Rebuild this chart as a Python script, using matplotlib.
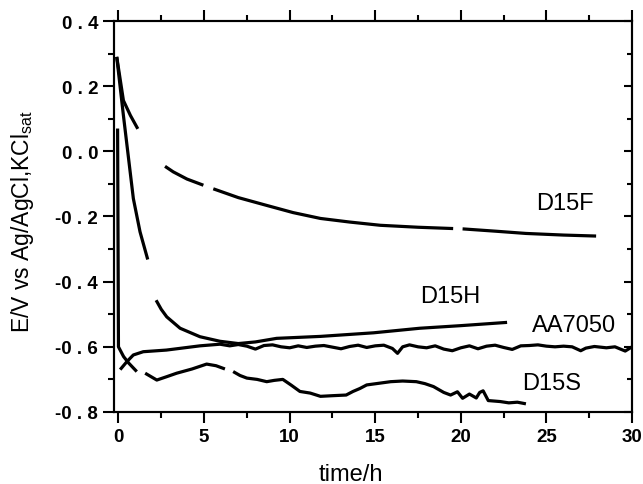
import numpy as np
import matplotlib
matplotlib.use("Agg")
import matplotlib.pyplot as plt
from matplotlib.ticker import MultipleLocator, FuncFormatter

plt.rcParams['font.family'] = ['Liberation Sans', 'DejaVu Sans']

gap = np.nan

# D15F (gaps where the record is missing)
d15f_t = [-0.1, 0.29, 0.7, 1.13, gap, 2.72, 3.2, 4.0, 4.96, gap, 5.54, 7.0, 8.66, 10.2, 11.8,
          13.5, 15.3, 17.5, 19.55, gap, 20.1, 22.0, 23.8, 26.0, 27.9]
d15f_v = [0.29, 0.156, 0.11, 0.069, gap, -0.046, -0.063, -0.085, -0.104, gap, -0.115, -0.142, -0.166,
          -0.188, -0.206, -0.217, -0.227, -0.233, -0.237, gap, -0.238, -0.245, -0.252, -0.257, -0.26]

# D15H
d15h_t = [-0.1, 0.29, 0.87, 1.26, 1.71, gap, 2.2, 2.5, 2.82, 3.6, 4.76, 5.93, 7.0, 8.0, 9.24,
          11.8, 14.9, 17.6, 20.0, 22.7]
d15h_v = [0.29, 0.11, -0.145, -0.247, -0.332, gap, -0.457, -0.485, -0.508, -0.543, -0.569, -0.583,
          -0.59, -0.585, -0.574, -0.568, -0.557, -0.543, -0.535, -0.525]

# AA7050
aa_t = [0.1, 0.5, 0.87, 1.45, 2.8, 4.76, 5.93, 6.5, 7.0, 7.5, 8.0, 8.5, 9.0, 9.5, 10.0, 10.5, 11.0,
        11.5, 12.0, 12.5, 13.0, 13.5, 14.0, 14.5, 15.0, 15.5, 16.0, 16.3, 16.6, 17.0, 17.5, 18.0,
        18.5, 19.0, 19.5, 20.0, 20.5, 21.0, 21.5, 22.0, 22.5, 23.0, 23.5, 24.0, 24.5, 25.0, 25.5,
        26.0, 26.5, 27.0, 27.3, 27.8, 28.5, 29.0, 29.6, 30.0]
aa_v = [-0.67, -0.645, -0.625, -0.615, -0.61, -0.597, -0.592, -0.597, -0.593, -0.598, -0.607,
        -0.596, -0.594, -0.600, -0.603, -0.597, -0.602, -0.598, -0.596, -0.601, -0.606, -0.599,
        -0.595, -0.602, -0.597, -0.595, -0.605, -0.62, -0.600, -0.594, -0.600, -0.603, -0.597,
        -0.607, -0.612, -0.603, -0.597, -0.606, -0.598, -0.595, -0.602, -0.608, -0.597, -0.596,
        -0.594, -0.598, -0.600, -0.598, -0.600, -0.612, -0.604, -0.599, -0.603, -0.600, -0.613,
        -0.600]

# D15S
d15s_t = [-0.05, 0.0, 0.3, 0.6, 1.07, gap, 1.56, 2.24, 2.8, 3.4, 4.3, 5.15, 5.7, 6.22, gap,
          6.7, 7.1, 7.5, 8.1, 8.66, 9.1, 9.6, 10.1, 10.6, 11.2, 11.8, 12.5, 13.3, 13.7, 14.1,
          14.5, 15.2, 15.9, 16.6, 17.4, 17.9, 18.4, 19.0, 19.4, 19.8, 20.1, 20.5, 20.9, 21.1,
          21.3, 21.6, 22.3, 22.8, 23.3, 23.8]
d15s_v = [0.07, -0.60, -0.63, -0.65, -0.676, gap, -0.681, -0.702, -0.692, -0.681, -0.668, -0.653,
          -0.658, -0.668, gap, -0.676, -0.688, -0.696, -0.700, -0.707, -0.703, -0.700, -0.718,
          -0.737, -0.742, -0.752, -0.750, -0.748, -0.737, -0.728, -0.717, -0.712, -0.707, -0.705,
          -0.707, -0.713, -0.722, -0.74, -0.748, -0.738, -0.758, -0.745, -0.757, -0.740, -0.735,
          -0.765, -0.768, -0.772, -0.77, -0.775]

labels = ["D15F", "D15H", "AA7050", "D15S"]
label_pos = [(26.1, -0.16), (19.4, -0.445), (26.6, -0.534), (25.3, -0.712)]

fig = plt.figure(figsize=(6.43, 4.85), dpi=100)
ax = fig.add_axes([0.1773, 0.1485, 0.8057, 0.8061])

for t, v in [(d15f_t, d15f_v), (d15h_t, d15h_v), (aa_t, aa_v), (d15s_t, d15s_v)]:
    ax.plot(t, v, color='black', lw=2.3, solid_capstyle='butt')

for lab, (x, y) in zip(labels, label_pos):
    ax.text(x, y, lab, fontsize=17, ha='center', va='center')

ax.set_xlim(-0.26, 30)
ax.set_ylim(-0.8, 0.4)
ax.xaxis.set_major_locator(MultipleLocator(5))
ax.xaxis.set_minor_locator(MultipleLocator(2.5))
ax.yaxis.set_major_locator(MultipleLocator(0.2))
ax.yaxis.set_minor_locator(MultipleLocator(0.1))
ax.yaxis.set_major_formatter(FuncFormatter(lambda v, p: f"{v:.1f}".replace(".", " . ")))

for s in ax.spines.values():
    s.set_linewidth(1.5)

ax.tick_params(axis='x', which='both', direction='out', top=True, width=1.5)
ax.tick_params(axis='y', which='both', direction='out', right=False, width=1.5)
ax.tick_params(which='major', length=8, labelsize=13.5)
ax.tick_params(which='minor', length=4.5)
for lab in ax.get_xticklabels() + ax.get_yticklabels():
    lab.set_fontweight('bold')

# right-hand ticks point inward
ax2 = ax.twinx()
ax2.set_ylim(ax.get_ylim())
ax2.yaxis.set_major_locator(MultipleLocator(0.2))
ax2.yaxis.set_minor_locator(MultipleLocator(0.1))
ax2.tick_params(axis='y', which='both', direction='in', labelright=False, width=1.5)
ax2.tick_params(which='major', length=6)
ax2.tick_params(which='minor', length=3.5)
for s in ax2.spines.values():
    s.set_linewidth(1.5)

ax.set_xlabel("time/h", fontsize=17)
ax.xaxis.set_label_coords(0.457, -0.13)
ax.set_ylabel("E/V vs Ag/AgCl,KCl$_{\\mathregular{sat}}$", fontsize=16.5)
ax.yaxis.set_label_coords(-0.15, 0.49)

fig.savefig("out.png", dpi=100)
